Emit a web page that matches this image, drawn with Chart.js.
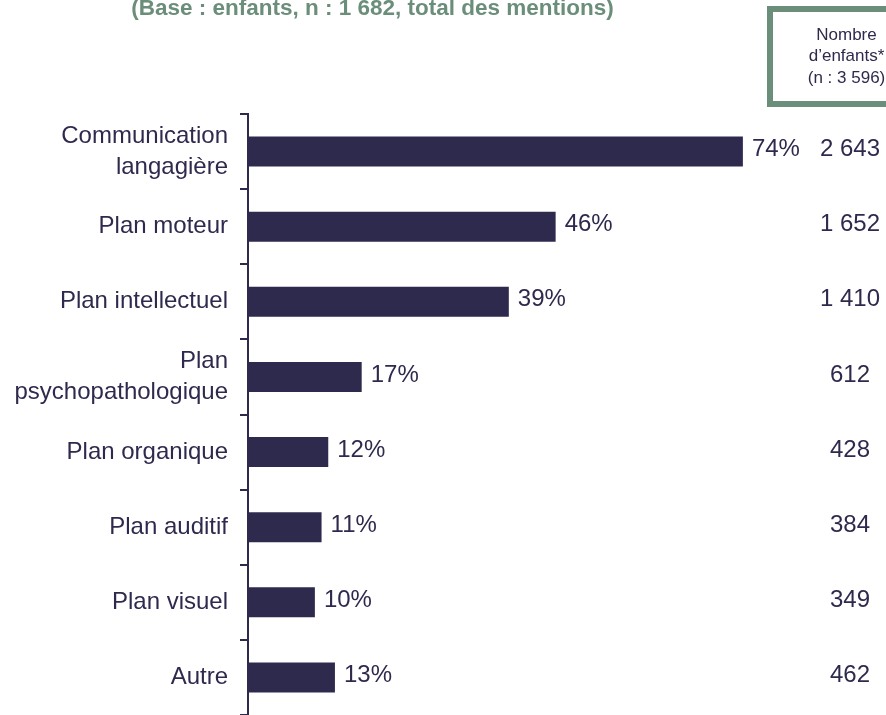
<!DOCTYPE html>
<html>
<head>
<meta charset="utf-8">
<script src="https://cdn.jsdelivr.net/npm/chart.js@4/dist/chart.umd.min.js"></script>
<style>
  html, body { margin: 0; padding: 0; background: #ffffff; overflow: hidden; }
  #wrap { position: relative; width: 886px; height: 715px; }
</style>
</head>
<body>
<div id="wrap"><canvas id="c" width="886" height="715"></canvas></div>
<script>
const categories = [
  ['Communication', 'langagière'],
  'Plan moteur',
  'Plan intellectuel',
  ['Plan', 'psychopathologique'],
  'Plan organique',
  'Plan auditif',
  'Plan visuel',
  'Autre'
];
const percentValues = [74, 46, 39, 17, 12, 11, 10, 13];
const childCounts = ['2 643', '1 652', '1 410', '612', '428', '384', '349', '462'];
const titleText = '(Base : enfants, n : 1 682, total des mentions)';
const boxLines = ['Nombre', 'd\u2019enfants*', '(n : 3 596)'];

const NAVY = '#2e2a4e';
const GREEN = '#6b8e7a';
const FONT = '"Liberation Sans", Arial, sans-serif';

const annotations = {
  id: 'annotations',
  afterDatasetsDraw(chart) {
    const ctx = chart.ctx;
    const meta = chart.getDatasetMeta(0);
    ctx.save();
    ctx.fillStyle = NAVY;
    ctx.font = '24px ' + FONT;
    ctx.textBaseline = 'middle';
    meta.data.forEach((bar, i) => {
      ctx.textAlign = 'left';
      ctx.fillText(percentValues[i] + '%', bar.x + 9, bar.y - 2);
      ctx.textAlign = 'center';
      ctx.fillText(childCounts[i], 850, bar.y - 2);
    });
    ctx.restore();
  },
  afterDraw(chart) {
    const ctx = chart.ctx;
    ctx.save();
    ctx.fillStyle = GREEN;
    ctx.font = 'bold 22.5px ' + FONT;
    ctx.textAlign = 'center';
    ctx.textBaseline = 'alphabetic';
    ctx.fillText(titleText, 372.5, 15);
    ctx.strokeStyle = GREEN;
    ctx.lineWidth = 6;
    ctx.strokeRect(770, 9, 200, 95);
    ctx.fillStyle = NAVY;
    ctx.font = '17px ' + FONT;
    ctx.textAlign = 'center';
    boxLines.forEach((t, i) => ctx.fillText(t, 846.5, 39.5 + i * 21.5));
    ctx.restore();
  }
};

new Chart(document.getElementById('c'), {
  type: 'bar',
  data: {
    labels: categories,
    datasets: [{
      data: percentValues,
      backgroundColor: NAVY,
      borderWidth: 0,
      barPercentage: 0.4,
      categoryPercentage: 1.0
    }]
  },
  options: {
    indexAxis: 'y',
    responsive: false,
    animation: false,
    devicePixelRatio: 1,
    layout: { padding: { top: 114, right: 0, bottom: 0, left: 0 } },
    plugins: {
      legend: { display: false },
      tooltip: { enabled: false },
      title: { display: false }
    },
    scales: {
      x: {
        display: false,
        min: 0,
        max: 95.4
      },
      y: {
        type: 'category',
        position: 'left',
        offset: true,
        afterFit(scale) {
          scale.width = 248;
          scale.paddingTop = 0;
          scale.paddingBottom = 0;
        },
        border: { display: true, color: NAVY, width: 2 },
        grid: {
          offset: true,
          drawOnChartArea: false,
          drawTicks: true,
          tickLength: 8,
          color: NAVY,
          lineWidth: 2
        },
        ticks: {
          color: NAVY,
          padding: 12,
          font: { family: FONT, size: 24, lineHeight: 1.3 }
        }
      }
    }
  },
  plugins: [annotations]
});
</script>
</body>
</html>
